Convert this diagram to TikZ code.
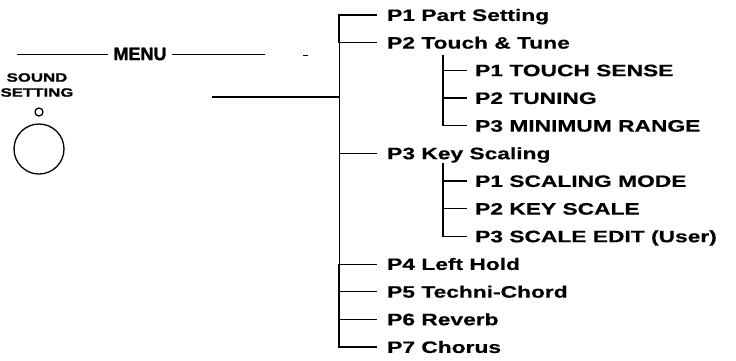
\documentclass[tikz,border=0pt]{standalone}
\usepackage{fontspec}
\setmainfont{Liberation Sans}
\newfontfamily\itemfont[FakeStretch=1.38, FakeBold=0.5]{Liberation Sans}
\newfontfamily\panelfont[FakeBold=1.5]{Liberation Sans}
\newfontfamily\knobfont[FakeStretch=1.4, FakeBold=1.5]{Liberation Sans}
\usetikzlibrary{positioning}

\tikzset{
  item/.style={anchor=west, inner sep=0pt, text height=11.8pt, text depth=0pt,
    font=\itemfont\bfseries\fontsize{16.5}{18}\selectfont},
  branch/.style={line width=1.1pt},
  faint/.style={line width=0.6pt},
}

\begin{document}
\begin{tikzpicture}[x=1pt, y=-1pt]
  \useasboundingbox (0,0) rectangle (736,360);
  % front panel
  \node[font=\panelfont\bfseries\fontsize{18}{20}\selectfont, inner sep=5pt] (menu) at (140,54) {MENU};
  \coordinate (ml) at (17,54);
  \coordinate (mr) at (265,54);
  \draw[line width=0.8pt] (ml) -- (menu);
  \draw[line width=0.8pt] (menu) -- (mr);
  \draw[line width=0.8pt] (303,55) -- (308,55);
  \node[font=\knobfont\bfseries\fontsize{12}{15}\selectfont, align=center, inner sep=0pt] (snd) at (37,85) {SOUND\\SETTING};
  \draw[line width=1.3pt] (39,112) circle (4);
  \draw[line width=1.3pt] (39,149) circle (25);
  % menu tree
  \coordinate (bus) at (339,0);
  \node[item] (m1) at (387,15) {P1 Part Setting};
  \node[item] (m2) at (387,42.7) {P2 Touch \& Tune};
  \node[item] (a1) at (475,70.3) {P1 TOUCH SENSE};
  \node[item] (a2) at (475,98) {P2 TUNING};
  \node[item] (a3) at (475,125.7) {P3 MINIMUM RANGE};
  \node[item] (m3) at (387,153.3) {P3 Key Scaling};
  \node[item] (b1) at (475,181) {P1 SCALING MODE};
  \node[item] (b2) at (475,208.7) {P2 KEY SCALE};
  \node[item] (b3) at (475,236.3) {P3 SCALE EDIT (User)};
  \node[item] (m4) at (387,264) {P4 Left Hold};
  \node[item] (m5) at (387,291.7) {P5 Techni-Chord};
  \node[item] (m6) at (387,319.3) {P6 Reverb};
  \node[item] (m7) at (387,347) {P7 Chorus};
  \draw[branch] ([xshift=-10pt]m1.west) -- (bus |- m1.west) -- (bus |- m2.west);
  \draw[faint] (bus |- m2.west) -- (bus |- m4.west);
  \draw[branch] (bus |- m4.west) -- (bus |- m7.west) -- ([xshift=-10pt]m7.west);
  \draw[faint] (bus |- m2.west) -- ([xshift=-10pt]m2.west);
  \draw[faint] (bus |- m3.west) -- ([xshift=-10pt]m3.west);
  \draw[faint] (bus |- m4.west) -- ([xshift=-10pt]m4.west);
  \draw[branch] (bus |- m5.west) -- ([xshift=-10pt]m5.west);
  \draw[branch] (bus |- m6.west) -- ([xshift=-10pt]m6.west);
  % sub menus
  \coordinate (sa) at (443,55);
  \coordinate (sb) at (443,163);
  \draw[branch] (sa) |- ([xshift=-8pt]a3.west);
  \draw[faint] (sa |- a1.west) -- ([xshift=-8pt]a1.west);
  \draw[branch] (sa |- a2.west) -- ([xshift=-8pt]a2.west);
  \draw[branch] (sb) |- ([xshift=-8pt]b3.west);
  \draw[branch] (sb |- b1.west) -- ([xshift=-8pt]b1.west);
  \draw[faint] (sb |- b2.west) -- ([xshift=-8pt]b2.west);
  % sound setting knob lead
  \coordinate (lead) at (212,97);
  \draw[line width=1.8pt] (lead) -- (bus |- lead);
\end{tikzpicture}
\end{document}
